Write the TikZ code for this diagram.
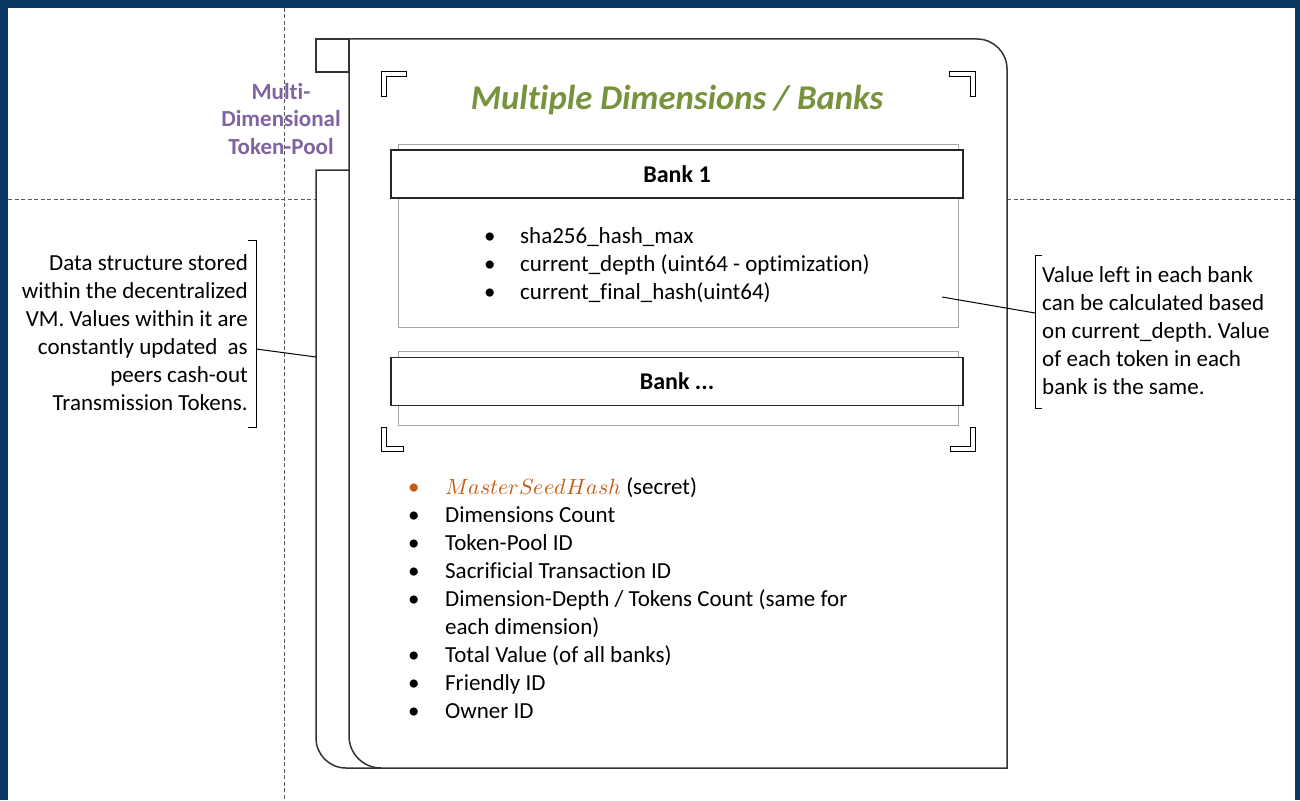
\documentclass[tikz,border=0pt]{standalone}
\usepackage{fontspec}
\usepackage{unicode-math}
\setmainfont{Carlito}[Ligatures=NoCommon]
\setmathfont{Latin Modern Math}
\frenchspacing

\definecolor{frameblue}{HTML}{0B3764}
\definecolor{titlegreen}{HTML}{77933C}
\definecolor{poolpurple}{HTML}{8064A2}
\definecolor{seedorange}{HTML}{C55A11}

\begin{document}
\begin{tikzpicture}[x=1pt,y=-1pt,
  guide/.style={draw=black!65, line width=1pt, dash pattern=on 4pt off 2.5pt},
  outline/.style={draw=black!80, line width=1.5pt},
  bankframe/.style={draw=black!35, line width=1pt, inner sep=0pt},
  bankhead/.style={draw=black!85, line width=1.4pt, fill=white, inner sep=0pt,
    minimum width=572pt, minimum height=48pt,
    font=\bfseries\fontsize{24}{28}\selectfont},
  cornermark/.style={draw=black, line width=0.8pt, fill=white, line join=miter},
  bodytext/.style={font=\fontsize{23}{28}\selectfont, inner sep=0pt},
  lead/.style={draw=black, line width=1pt}]

\useasboundingbox (0,0) rectangle (1300,800);
\fill[white] (0,0) rectangle (1300,800);

% page frame
\fill[frameblue] (0,0) rectangle (1300,8);
\fill[frameblue] (0,0) rectangle (8,800);
\fill[frameblue] (1295,0) rectangle (1300,800);

% guide lines
\draw[guide] (284,8) -- (284,800);
\draw[guide] (8,199) -- (316,199);
\draw[guide] (1007,199) -- (1295,199);

% folder: tab, back sheet, front sheet
\draw[outline, fill=white] (316,39) rectangle (349,72);
\draw[outline, fill=white] (349,170) -- (316,170) -- (316,738)
  .. controls (316,754.6) and (329.4,768) .. (346,768) -- (381,768);
\draw[outline, fill=white] (349,39) -- (977,39)
  .. controls (993.6,39) and (1007,52.4) .. (1007,69)
  -- (1007,768) -- (381,768)
  .. controls (363.3,768) and (349,753.7) .. (349,736) -- cycle;

% pool label
\node[font=\bfseries\fontsize{23}{27.5}\selectfont, text=poolpurple, align=center,
  inner sep=0pt, anchor=base] (pool) at (281,154) {Multi-\\Dimensional\\Token-Pool};

% corner marks
\draw[cornermark] (381,71) -- (406,71) -- (406,76) -- (386,76) -- (386,96) -- (381,96) -- cycle;
\draw[cornermark] (949,71) -- (975,71) -- (975,96) -- (970,96) -- (970,76) -- (949,76) -- cycle;
\draw[cornermark] (381,427) -- (386,427) -- (386,446) -- (403,446) -- (403,451) -- (381,451) -- cycle;
\draw[cornermark] (975,427) -- (975,451) -- (950,451) -- (950,446) -- (970,446) -- (970,427) -- cycle;

% title
\node[font=\bfseries\itshape\fontsize{34.7}{40}\selectfont, text=titlegreen,
  inner sep=0pt, anchor=base] (title) at (677,109) {Multiple Dimensions / Banks};

% bank 1
\node[bankframe, minimum width=560pt, minimum height=183pt, anchor=north west]
  (bank1frame) at (398,144) {};
\node[bankhead] (bank1) at (677,174) {Bank 1};
\node[bodytext, anchor=base west] (bank1fields) at (484,243) {%
  \begin{tabular}[t]{@{}l@{}l@{}}
  \makebox[36pt][l]{\textbullet} & sha256\_hash\_max\\
  \makebox[36pt][l]{\textbullet} & current\_depth (uint64 - optimization)\\
  \makebox[36pt][l]{\textbullet} & current\_final\_hash(uint64)
  \end{tabular}};

% further banks
\node[bankframe, minimum width=560pt, minimum height=74pt, anchor=north west]
  (bankNframe) at (398,351) {};
\node[bankhead] (bankN) at (677,381.5) {Bank ...};

% pool fields
\node[bodytext, anchor=base west] (poolfields) at (408,494) {%
  \begin{tabular}[t]{@{}l@{}l@{}}
  \makebox[37pt][l]{\textcolor{seedorange}{\textbullet}} &
    {\fontsize{22}{28}\selectfont\textcolor{seedorange}{$MasterSeedHash$}} (secret)\\
  \makebox[37pt][l]{\textbullet} & Dimensions Count\\
  \makebox[37pt][l]{\textbullet} & Token-Pool ID\\
  \makebox[37pt][l]{\textbullet} & Sacrificial Transaction ID\\
  \makebox[37pt][l]{\textbullet} & Dimension-Depth / Tokens Count (same for\\
   & each dimension)\\
  \makebox[37pt][l]{\textbullet} & Total Value (of all banks)\\
  \makebox[37pt][l]{\textbullet} & Friendly ID\\
  \makebox[37pt][l]{\textbullet} & Owner ID
  \end{tabular}};

% left note
\node[bodytext, align=right, anchor=base east] (leftnote) at (248,410) {%
  Data structure stored\\within the decentralized\\VM. Values within it are\\
  constantly updated~~as\\peers cash-out\\Transmission Tokens.};
\draw[lead] (248,240) -- (256,240) -- (256,427) -- (248,427);
\coordinate (leftbrace) at (256,349);
\coordinate (backedge) at (316,357);
\draw[lead] (leftbrace) -- (backedge);

% right note
\node[bodytext, align=left, anchor=base west] (rightnote) at (1042,394) {%
  Value left in each bank\\can be calculated based\\on current\_depth. Value\\
  of each token in each\\bank is the same.};
\draw[lead] (1042,255) -- (1035,255) -- (1035,408) -- (1042,408);
\coordinate (rightbrace) at (1035,313);
\coordinate (bankpoint) at (942,297);
\draw[lead] (bankpoint) -- (rightbrace);

\end{tikzpicture}
\end{document}
